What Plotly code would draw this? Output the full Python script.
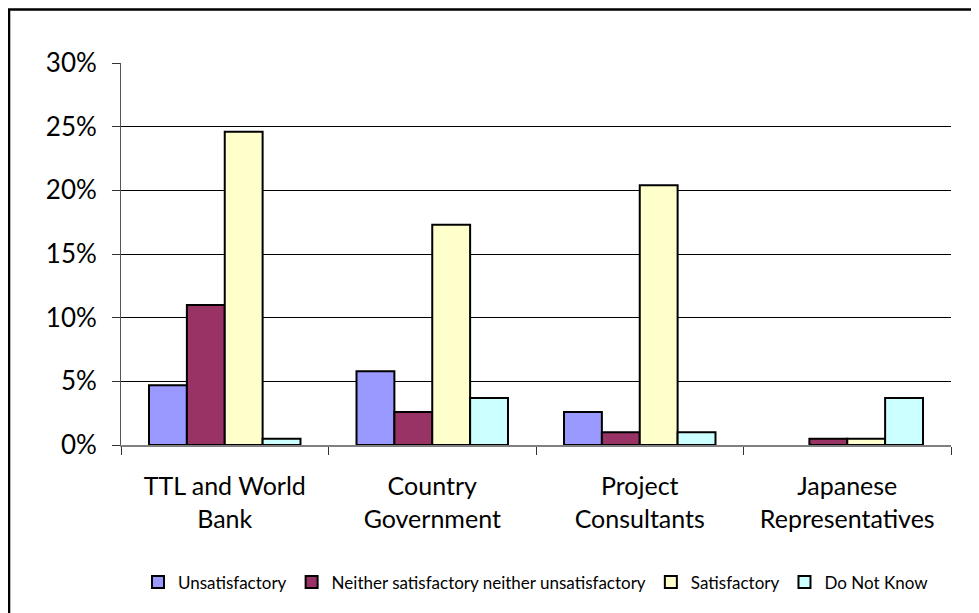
import plotly.graph_objects as go

categories = ["TTL and World<br>Bank", "Country<br>Government", "Project<br>Consultants", "Japanese<br>Representatives"]
series_names = ["Unsatisfactory", "Neither satisfactory neither unsatisfactory", "Satisfactory", "Do Not Know"]
unsatisfactory = [4.7, 5.8, 2.6, 0.0]
neither = [11.0, 2.6, 1.0, 0.5]
satisfactory = [24.6, 17.3, 20.4, 0.5]
do_not_know = [0.5, 3.7, 1.0, 3.7]
colors = ["#9999FF", "#993366", "#FFFFCC", "#CCFFFF"]
y_ticks = [0, 5, 10, 15, 20, 25, 30]
y_tick_labels = ["0%", "5%", "10%", "15%", "20%", "25%", "30%"]

font_family = "Lato, 'Open Sans', sans-serif"

fig = go.Figure()
for name, vals, col in zip(series_names, [unsatisfactory, neither, satisfactory, do_not_know], colors):
    fig.add_trace(go.Bar(
        x=categories, y=vals, name=name,
        marker=dict(color=col, line=dict(color="#000000",
                                         width=[2 if v > 0 else 0 for v in vals])),
    ))

fig.update_layout(
    width=971, height=605,
    margin=dict(l=113, r=28, t=55, b=164),
    paper_bgcolor="white", plot_bgcolor="white",
    barmode="group", bargap=0.27, bargroupgap=0,
    font=dict(family=font_family, color="#000000"),
    showlegend=True,
    legend=dict(orientation="h", x=0.5, xanchor="center", y=-0.36, yanchor="middle",
                font=dict(size=17, family=font_family), itemwidth=30,
                traceorder="normal", tracegroupgap=0),
    xaxis=dict(
        showline=True, linecolor="#808080", linewidth=2,
        ticks="outside", tickson="boundaries", ticklen=8, tickcolor="#333333",
        tickfont=dict(size=25), showgrid=False, ticklabelstandoff=18,
    ),
    yaxis=dict(
        range=[0, 30], tickvals=y_ticks, ticktext=y_tick_labels,
        showline=True, linecolor="#555555", linewidth=1,
        ticks="outside", ticklen=8, tickcolor="#333333",
        tickfont=dict(size=26), ticklabelstandoff=10,
        showgrid=True, gridcolor="#000000", gridwidth=1,
        zeroline=False,
    ),
    shapes=[dict(type="rect", xref="paper", yref="paper",
                 x0=-0.1349, x1=1.1, y0=-0.5, y1=1.1399,
                 line=dict(color="#000000", width=2.5), fillcolor="rgba(0,0,0,0)",
                 layer="below")],
)

fig.write_html("out.html")
